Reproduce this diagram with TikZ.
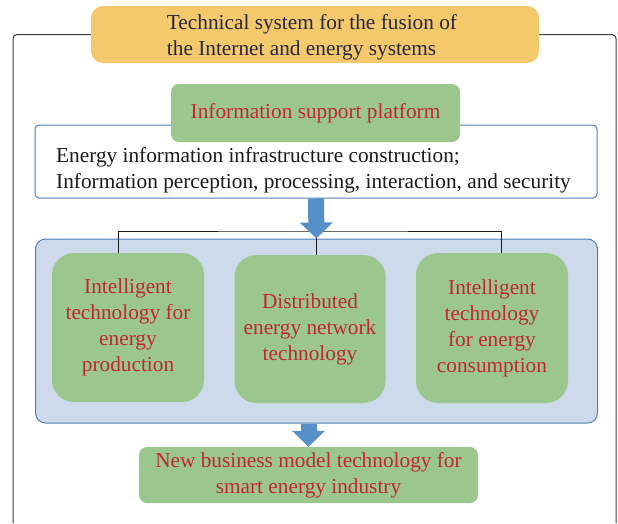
\documentclass[tikz,border=0pt]{standalone}
\usepackage{fontspec}
\setmainfont{Liberation Serif}
\usetikzlibrary{arrows.meta}
\definecolor{gold}{HTML}{F4C96C}
\definecolor{leaf}{HTML}{9BC78F}
\definecolor{brick}{HTML}{C1272D}
\definecolor{navy}{HTML}{26263E}
\definecolor{ink}{HTML}{1A1A1A}
\definecolor{edge}{HTML}{4F7FB8}
\definecolor{mist}{HTML}{CCDAEB}
\definecolor{flow}{HTML}{5591C8}
\tikzset{
  box/.style={rounded corners=8pt, fill=leaf, text=brick, align=center, inner sep=0pt},
  techbox/.style={box, rounded corners=22pt, minimum width=152pt, minimum height=149pt},
  frame/.style={draw=ink!85, line width=1pt, rounded corners=4pt},
  link/.style={draw=ink, line width=1pt},
  bigarrow/.style={draw=flow, line width=16pt, -{Triangle[width=32pt,length=16pt]}},
}
\begin{document}
\begin{tikzpicture}[x=1pt, y=-1pt, font=\fontsize{21.3}{26}\selectfont]
\useasboundingbox (0,0) rectangle (618,523);
% --- outer frame and title
\draw[frame] (13,523) -- (13,34.5) -- (616,34.5) -- (616,523);
\node[box, fill=gold, rounded corners=12pt, minimum width=448pt, minimum height=57pt] (title) at (315,34.5) {};
\node[text=navy, align=left, inner sep=0pt] (titletext) at (312,37.5) {Technical system for the fusion of\\the Internet and energy systems};
% --- information support platform
\node[draw=edge, line width=1pt, fill=white, rounded corners=4pt, minimum width=562pt, minimum height=73pt] (infobox) at (316,161.5) {};
\node[text=ink, align=left, anchor=west, inner sep=0pt] (infotext) at (56,170) {Energy information infrastructure construction;\\Information perception, processing, interaction, and security};
\node[box, minimum width=289pt, minimum height=58pt] (platform) at (315.5,113) {Information support platform};
% --- technology group
\node[draw=edge, line width=1pt, fill=mist, rounded corners=10pt, minimum width=562pt, minimum height=184pt] (group) at (316.5,331) {};
\node[techbox] (prod) at (128,327.5) {Intelligent\\technology for\\energy\\production};
\node[techbox, minimum width=151pt, minimum height=148pt] (dist) at (310,329) {Distributed\\energy network\\technology};
\node[techbox, minimum height=150pt] (cons) at (492,328) {Intelligent\\technology\\for energy\\consumption};
\coordinate (bus) at (316,231);
\draw[link] ([xshift=-10pt]prod.north) |- (bus) -| ([xshift=9pt]cons.north);
\draw[link] (bus) -- (bus |- dist.north);
% --- business model
\node[box, minimum width=339pt, minimum height=56pt] (business) at (308.5,475) {New business model technology for\\smart energy industry};
\draw[bigarrow] (infobox.south) -- (group.north);
\draw[bigarrow] (group.south -| business.north) -- (business.north);
\end{tikzpicture}
\end{document}
